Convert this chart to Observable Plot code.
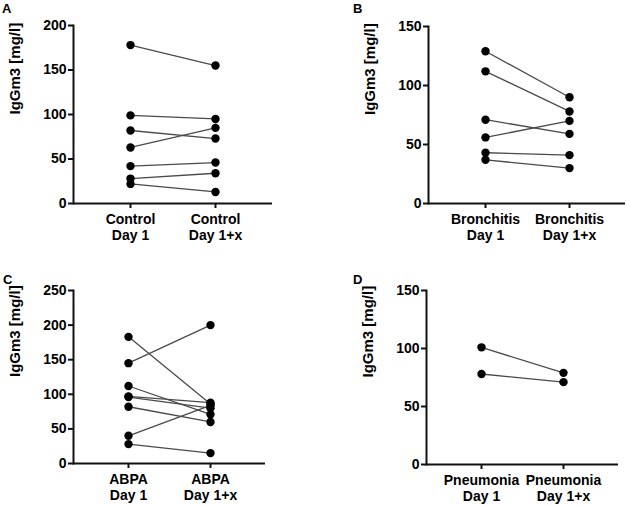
<!DOCTYPE html>
<html>
<head>
<meta charset="utf-8">
<script src="https://cdn.jsdelivr.net/npm/d3@7"></script>
<script src="https://cdn.jsdelivr.net/npm/@observablehq/plot@0.6"></script>
<style>
  body { margin: 0; background: #fff; }
  #fig { position: relative; width: 627px; height: 505px; font-family: "Liberation Sans", Arial, sans-serif; }
  .panel { position: absolute; }
  .letter { position: absolute; font-weight: bold; font-size: 13px; color: #000; line-height: 1; }
</style>
</head>
<body>
<div id="fig"></div>
<script>
// ---- Data ----
const panelLetters = ["A", "B", "C", "D"];
const groupNames = ["Control", "Bronchitis", "ABPA", "Pneumonia"];
const timepoints = ["Day 1", "Day 1+x"];
const yLabel = "IgGm3 [mg/l]";

const controlDay1  = [178, 99, 82, 63, 42, 28, 22];
const controlDayX  = [155, 95, 73, 85, 46, 34, 13];

const bronchDay1   = [129, 112, 71, 56, 43, 37];
const bronchDayX   = [90, 78, 59, 70, 41, 30];

const abpaDay1     = [183, 145, 112, 97, 96, 82, 40, 28];
const abpaDayX     = [86, 200, 71, 88, 80, 60, 84, 15];

const pneuDay1     = [101, 78];
const pneuDayX     = [79, 71];

const yTicksA = [0, 50, 100, 150, 200];
const yTicksB = [0, 50, 100, 150];
const yTicksC = [0, 50, 100, 150, 200, 250];
const yTicksD = [0, 50, 100, 150];

// ---- Layout ----
const layouts = [
  {left: 0,   top: 0,   width: 313, height: 250, mt: 25, mb: 47, ml: 73,  mr: 41, lx: 2,   ly: 2},
  {left: 313, top: 0,   width: 314, height: 250, mt: 26, mb: 47, ml: 115, mr: 2,  lx: 40,  ly: 2},
  {left: 0,   top: 250, width: 313, height: 255, mt: 40, mb: 42, ml: 73,  mr: 48, lx: 3,   ly: 23},
  {left: 313, top: 250, width: 314, height: 255, mt: 40, mb: 41, ml: 113, mr: 9,  lx: 40,  ly: 23}
];

const series = [
  [controlDay1, controlDayX, yTicksA],
  [bronchDay1, bronchDayX, yTicksB],
  [abpaDay1, abpaDayX, yTicksC],
  [pneuDay1, pneuDayX, yTicksD]
];

const fig = document.getElementById("fig");

series.forEach(([d1, dx, ticks], k) => {
  const L = layouts[k];
  const cats = timepoints.map(t => `${groupNames[k]}\n${t}`);
  const rows = d1.flatMap((v, i) => [
    {id: i, t: cats[0], v},
    {id: i, t: cats[1], v: dx[i]}
  ]);
  const yMax = ticks[ticks.length - 1];
  const chart = Plot.plot({
    width: L.width,
    height: L.height,
    marginTop: L.mt,
    marginBottom: L.mb,
    marginLeft: L.ml,
    marginRight: L.mr,
    style: {fontFamily: '"Liberation Sans", Arial, sans-serif', fontWeight: "bold", fontSize: "14px", color: "#000", background: "transparent", overflow: "visible"},
    x: {type: "point", domain: cats, padding: 0.66, align: 0.5},
    y: {domain: [0, yMax]},
    marks: [
      Plot.frame({anchor: "left", stroke: "#111", strokeWidth: 2}),
      Plot.ruleY([0], {stroke: "#111", strokeWidth: 2}),
      Plot.axisY({ticks, tickSize: 5, tickPadding: 2, stroke: "#111", strokeWidth: 2, label: null, fontSize: 14, fontWeight: "bold", fill: "#000"}),
      Plot.axisX({tickSize: 5, tickPadding: 4, stroke: "#111", strokeWidth: 2, label: null, fontSize: 14, fontWeight: "bold", lineHeight: 1.15, fill: "#000"}),
      Plot.text([yLabel], {frameAnchor: "left", rotate: -90, dx: -58, fontSize: 15, fontWeight: "bold", fill: "#000"}),
      Plot.line(rows, {x: "t", y: "v", z: "id", stroke: "#4a4a4a", strokeWidth: 1.3}),
      Plot.dot(rows, {x: "t", y: "v", r: 4.2, fill: "#000", stroke: "none"})
    ]
  });
  chart.classList.add("panel");
  chart.style.left = L.left + "px";
  chart.style.top = L.top + "px";
  fig.appendChild(chart);

  const letter = document.createElement("div");
  letter.className = "letter";
  letter.textContent = panelLetters[k];
  letter.style.left = (L.left + L.lx) + "px";
  letter.style.top = (L.top + L.ly) + "px";
  fig.appendChild(letter);
});
</script>
</body>
</html>
